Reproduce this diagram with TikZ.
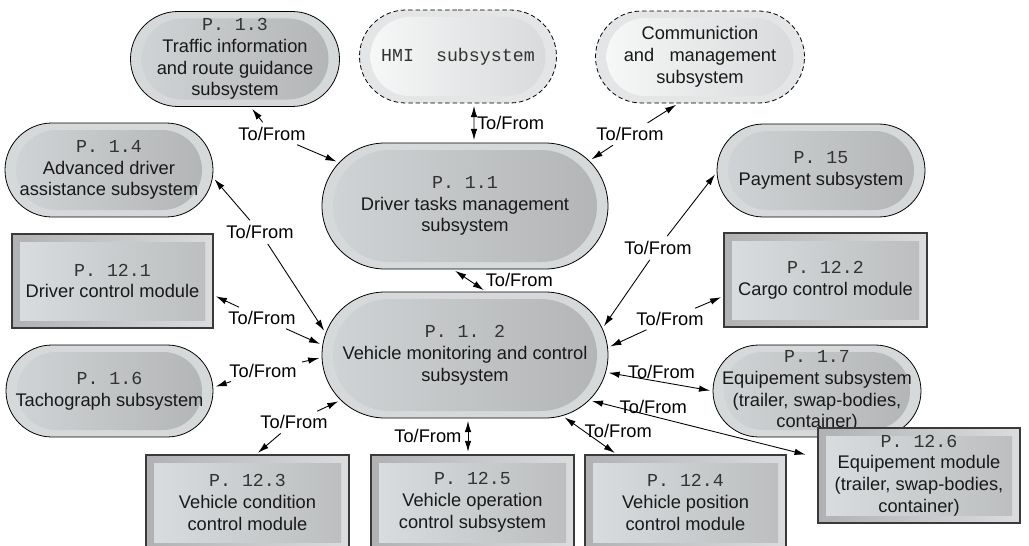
\documentclass[tikz,border=0pt]{standalone}
\usepackage{fontspec}
\setmainfont{Liberation Sans}
\newfontfamily\pfont{Liberation Mono}
\usetikzlibrary{shapes.misc,arrows.meta}

\definecolor{ringlight}{HTML}{D6D9DA}
\definecolor{stadleft}{HTML}{D0D3D5}
\definecolor{stadright}{HTML}{B3B5B6}
\definecolor{dashring}{HTML}{E3E5E6}
\definecolor{dashleft}{HTML}{F6F7F7}
\definecolor{dashright}{HTML}{D8DADB}
\definecolor{boxringl}{HTML}{AFB1B2}
\definecolor{boxringr}{HTML}{DADCDD}
\definecolor{boxleft}{HTML}{D8DCDE}
\definecolor{boxright}{HTML}{BCBEBF}
\definecolor{boxline}{HTML}{3A3A3A}

\tikzset{
  stadout/.style={rounded rectangle, draw=black, line width=0.45pt, fill=ringlight, inner sep=0pt},
  stadin/.style={rounded rectangle, left color=stadleft, right color=stadright, inner sep=0pt},
  dashout/.style={rounded rectangle, draw=black, line width=0.45pt, dash pattern=on 2.6pt off 1.6pt, fill=dashring, inner sep=0pt},
  dashin/.style={rounded rectangle, left color=dashleft, right color=dashright, inner sep=0pt},
  boxout/.style={rectangle, draw=boxline, line width=0.6pt, left color=boxringl, right color=boxringr, inner sep=0pt},
  boxin/.style={rectangle, left color=boxleft, right color=boxright, inner sep=0pt},
  txt/.style={align=center, text=black!90, inner sep=0pt, font=\fontsize{10.4}{12.4}\selectfont},
  lbl/.style={inner sep=1.5pt, font=\fontsize{10.4}{12}\selectfont},
  link/.style={line width=0.5pt, -{Latex[length=2.2mm,width=1.3mm]}, shorten >=1.5pt, shorten <=1.5pt},
  both/.style={link, {Latex[length=2.2mm,width=1.3mm]}-{Latex[length=2.2mm,width=1.3mm]}}
}

% process number in typewriter
\newcommand{\pid}[1]{{\pfont\color{black!80}#1}}
% rounded subsystem: kind, name, centre, width, height, text
\newcommand{\subsys}[6]{%
  \node[#1out, minimum width=#4cm, minimum height=#5cm] (#2) at (#3) {};
  \node[#1in, minimum width=#4cm-0.44cm, minimum height=#5cm-0.28cm] (#2in) at (#3) {};
  \node[txt] (#2txt) at (#3) {#6};
}
% square module: name, centre, width, height, text
\newcommand{\module}[5]{%
  \node[boxout, minimum width=#3cm, minimum height=#4cm] (#1) at (#2) {};
  \node[boxin, minimum width=#3cm-0.32cm, minimum height=#4cm-0.32cm] (#1in) at (#2) {};
  \node[txt] (#1txt) at (#2) {#5};
}

\begin{document}
\begin{tikzpicture}
  \useasboundingbox (0,0) rectangle (20.58,10.90);

  % top row
  \subsys{stad}{p13}{4.70,9.72}{4.18}{1.90}{\pid{P. 1.3}\\Traffic information\\and route guidance\\subsystem}
  \subsys{dash}{hmi}{9.16,9.77}{3.94}{1.86}{\pid{HMI\ \ subsystem}}
  \subsys{dash}{comm}{14.00,9.76}{4.18}{1.84}{Communiction\\and\ \ \ management\\subsystem}

  % middle
  \subsys{stad}{p14}{2.18,7.50}{4.16}{1.88}{\pid{P. 1.4}\\Advanced driver\\assistance subsystem}
  \subsys{stad}{p15}{16.42,7.49}{4.16}{1.86}{\pid{P. 15}\\Payment subsystem}
  \subsys{stad}{p11}{9.30,6.78}{5.72}{2.52}{\pid{P. 1.1}\\Driver tasks management\\subsystem}
  \subsys{stad}{p12}{9.30,3.80}{5.72}{2.52}{\pid{P. 1. 2}\\Vehicle monitoring and control\\subsystem}
  \module{p121}{2.25,5.28}{4.02}{1.88}{\pid{P. 12.1}\\Driver control module}
  \module{p122}{16.51,5.30}{4.06}{1.88}{\pid{P. 12.2}\\Cargo control module}
  \subsys{stad}{p16}{2.19,3.08}{4.14}{1.84}{\pid{P. 1.6}\\Tachograph subsystem}
  \subsys{stad}{p17}{16.34,3.08}{4.16}{1.84}{\pid{P. 1.7}\\Equipement subsystem\\(trailer, swap-bodies,\\container)}

  % bottom row
  \module{p123}{4.95,0.85}{4.06}{1.90}{\pid{P. 12.3}\\Vehicle condition\\control module}
  \module{p125}{9.45,0.85}{4.06}{1.90}{\pid{P. 12.5}\\Vehicle operation\\control subsystem}
  \module{p124}{13.71,0.85}{4.02}{1.90}{\pid{P. 12.4}\\Vehicle position\\control module}
  \module{p126}{18.38,1.39}{4.04}{1.90}{\pid{P. 12.6}\\Equipement module\\(trailer, swap-bodies,\\container)}

  % To/From links broken by their label
  \node[lbl] (l1) at (5.44,8.22) {To/From};
  \draw[link] (l1) -- (p13.288);
  \draw[link] (l1) -- (p11.161);
  \node[lbl] (l3) at (12.60,8.22) {To/From};
  \draw[link] (l3) -- (comm.245);
  \draw[link] (l3) -- (p11.20);
  \node[lbl] (l4) at (5.20,6.26) {To/From};
  \draw[link] (l4) -- (p14.356);
  \draw[link] (l4) -- (p12.171);
  \node[lbl] (l5) at (5.24,4.54) {To/From};
  \draw[link] (l5) -- (p121.352);
  \draw[link] (l5) -- (p12.176);
  \node[lbl] (l6) at (5.26,3.48) {To/From};
  \draw[link] (l6) -- (p16.2);
  \draw[link] (l6) -- (p12.181);
  \node[lbl] (l7) at (5.88,2.46) {To/From};
  \draw[link] (l7) -- (p123.80);
  \draw[link] (l7) -- (p12.200);
  \node[lbl] (l12) at (13.40,4.52) {To/From};
  \draw[link] (l12) -- (p122.189);
  \draw[link] (l12) -- (p12.3);
  \node[lbl] (l13) at (13.16,5.94) {To/From};
  \draw[link] (l13) -- (p15.181);
  \draw[link] (l13) -- (p12.11);

  % To/From links with the label beside
  \draw[both] ([xshift=0.32cm]hmi.south) -- node[lbl, right] (l2) {To/From} ([xshift=0.18cm]p11.north);
  \draw[both] ([xshift=-0.24cm]p11.south) -- node[lbl, pos=0.9, above right] (l14) {To/From} ([xshift=0.42cm]p12.north);
  \draw[both] ([xshift=0.06cm]p12.south) -- node[lbl, left=2pt] (l8) {To/From} ([xshift=-0.09cm]p125.north);
  \draw[both] (p12.328) -- node[lbl, pos=0.4, right, inner sep=0pt] (l9) {To/From} (p124.145);
  \draw[both, shorten >=7pt] (p12.340) -- node[lbl, pos=0.28, above] (l10) {To/From} (p126.170);
  \draw[both] (p12.353) -- node[lbl, pos=0.52, above] (l11) {To/From} (p17.west);
\end{tikzpicture}
\end{document}
